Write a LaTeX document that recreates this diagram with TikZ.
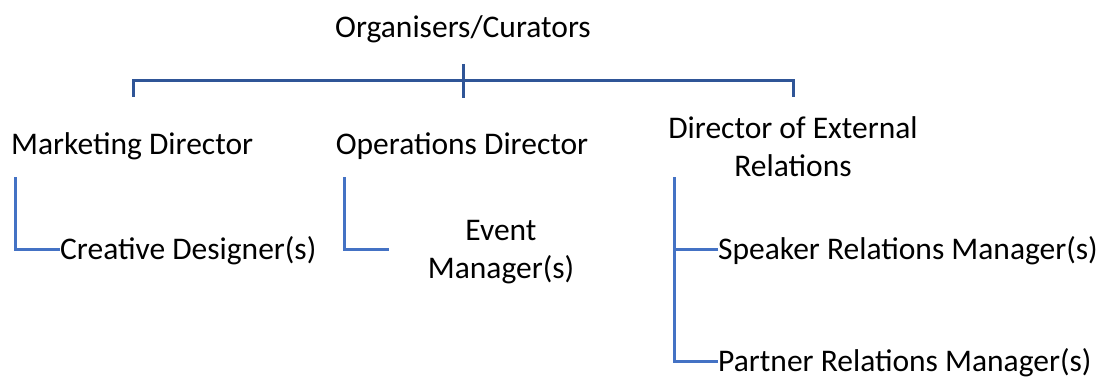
\documentclass[tikz,border=0pt]{standalone}
\usepackage{fontspec}
\setmainfont{Carlito}
\usetikzlibrary{positioning}
\definecolor{barblue}{HTML}{2F5597}
\definecolor{linkblue}{HTML}{4472C4}

\begin{document}
\begin{tikzpicture}[x=1pt,y=-1pt]

\tikzstyle{role}=[inner sep=0pt, font=\fontsize{31.5}{38}\selectfont]
\tikzstyle{bar}=[draw=barblue, line width=3pt]
\tikzstyle{line}=[draw=linkblue, line width=3pt]

\useasboundingbox (0,0) rectangle (1111,377);

\node[role, anchor=base] (organisers) at (463,38) {Organisers/Curators};

\node[role, anchor=base west] (marketing) at (11,155) {Marketing Director};
\node[role, anchor=base] (operations) at (462,155) {Operations Director};
\node[role, anchor=base, align=center] (external) at (793,176) {Director of External\\Relations};

\node[role, anchor=base west] (designer) at (60,259) {Creative Designer(s)};
\node[role, anchor=base, align=center] (event) at (501,278) {Event\\Manager(s)};
\node[role, anchor=base west] (speaker) at (718,259) {Speaker Relations Manager(s)};
\node[role, anchor=base west] (partner) at (718,371) {Partner Relations Manager(s)};

% bracket under the organisers
\coordinate (top tick) at (463,64);
\coordinate (bar join) at (463,81);
\coordinate (bar tail) at (463,98);
\coordinate (bar left) at (133,97);
\coordinate (bar right) at (793,97);

\path[bar] (top tick) -- (bar tail);
\path[bar] (bar left) |- (bar join) -| (bar right);

% stems under the directors
\coordinate (marketing stem) at (15,177);
\coordinate (operations stem) at (344,177);
\coordinate (external stem) at (674,177);
\coordinate (event link) at (389,249);

\path[line] (marketing stem) |- ([yshift=10pt]designer.base west);
\path[line] (operations stem) |- (event link);
\path[line] (external stem) |- ([yshift=10pt]partner.base west);
\path[line] ([yshift=10pt]speaker.base west) -| (external stem);

\end{tikzpicture}
\end{document}
